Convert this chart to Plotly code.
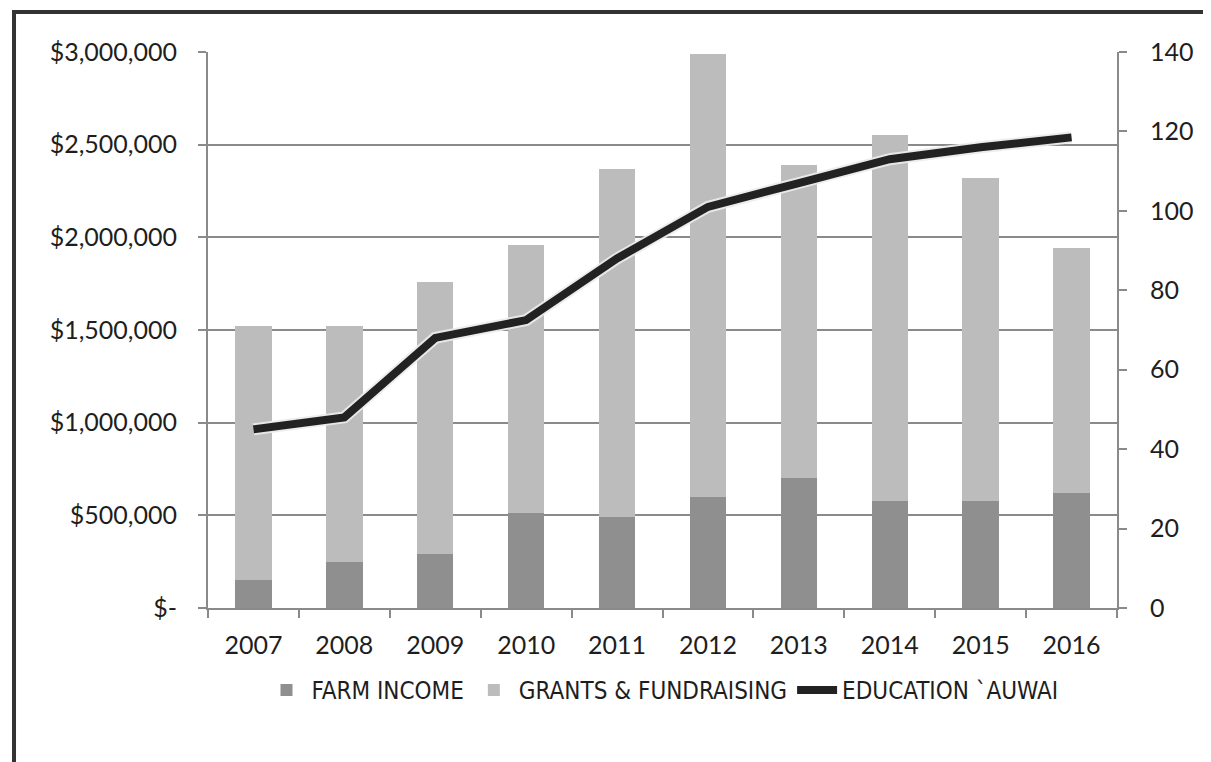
import plotly.graph_objects as go

years = ["2007", "2008", "2009", "2010", "2011", "2012", "2013", "2014", "2015", "2016"]
farm_income = [150000, 250000, 290000, 510000, 490000, 600000, 700000, 580000, 580000, 620000]
grants_fundraising = [1370000, 1270000, 1470000, 1450000, 1880000, 2390000, 1690000, 1970000, 1740000, 1320000]
education_auwai = [45, 48, 68, 72.5, 88, 101, 107, 113, 116, 118.5]

left_tickvals = [0, 500000, 1000000, 1500000, 2000000, 2500000, 3000000]
left_ticktext = ["$-", "$500,000", "$1,000,000", "$1,500,000", "$2,000,000", "$2,500,000", "$3,000,000"]
right_tickvals = [0, 20, 40, 60, 80, 100, 120, 140]

font_main = "Lato, 'Open Sans', sans-serif"
font_legend = "'DejaVu Sans Condensed', 'Liberation Sans Narrow', sans-serif"
txt = "#1e1e1e"
axc = "#8a8a8a"

fig = go.Figure()
fig.add_trace(go.Bar(x=years, y=farm_income, name="FARM INCOME",
                     marker=dict(color="#8f8f8f", line=dict(width=0)), yaxis="y"))
fig.add_trace(go.Bar(x=years, y=grants_fundraising, name="GRANTS & FUNDRAISING",
                     marker=dict(color="#bcbcbc", line=dict(width=0)), yaxis="y"))
# soft halo under the line
fig.add_trace(go.Scatter(x=years, y=education_auwai, mode="lines", yaxis="y2",
                         line=dict(color="rgba(235,235,235,0.9)", width=12),
                         showlegend=False, hoverinfo="skip"))
fig.add_trace(go.Scatter(x=years, y=education_auwai, name="EDUCATION `AUWAI", mode="lines",
                         yaxis="y2", line=dict(color="#222222", width=8)))

fig.update_layout(
    width=1203, height=754,
    margin=dict(l=200, r=94, t=44, b=154),
    paper_bgcolor="white", plot_bgcolor="white",
    barmode="stack", bargap=0.6,
    font=dict(family=font_main, size=25, color=txt),
    xaxis=dict(type="category", showgrid=False, showline=True, linecolor=axc, linewidth=2,
               ticks="outside", tickson="boundaries", ticklen=8, tickcolor=axc, tickwidth=2,
               ticklabelstandoff=14,
               tickfont=dict(size=25, family=font_main, color=txt)),
    yaxis=dict(range=[0, 3000000], tickvals=left_tickvals, ticktext=left_ticktext,
               showgrid=True, gridcolor=axc, gridwidth=2,
               showline=True, linecolor=axc, linewidth=2,
               ticks="outside", ticklen=8, tickcolor=axc, tickwidth=2,
               ticklabelstandoff=16,
               zeroline=False, tickfont=dict(size=25, family=font_main, color=txt)),
    yaxis2=dict(range=[0, 140], tickvals=right_tickvals, overlaying="y", side="right",
                showgrid=False, showline=True, linecolor=axc, linewidth=2,
                ticks="outside", ticklen=8, tickcolor=axc, tickwidth=2, zeroline=False,
                ticklabelstandoff=18,
                tickfont=dict(size=25, family=font_main, color=txt)),
    legend=dict(orientation="h", x=0.5, xanchor="center", y=-0.148, yanchor="middle",
                traceorder="normal", font=dict(size=24, family=font_legend, color=txt),
                itemwidth=40),
    shapes=[dict(type="rect", xref="paper", yref="paper", x0=-0.2134, x1=1.2, y0=-0.4, y1=1.072,
                 line=dict(color="#333333", width=4), fillcolor="rgba(0,0,0,0)", layer="above")],
)

fig.write_html("out.html")
